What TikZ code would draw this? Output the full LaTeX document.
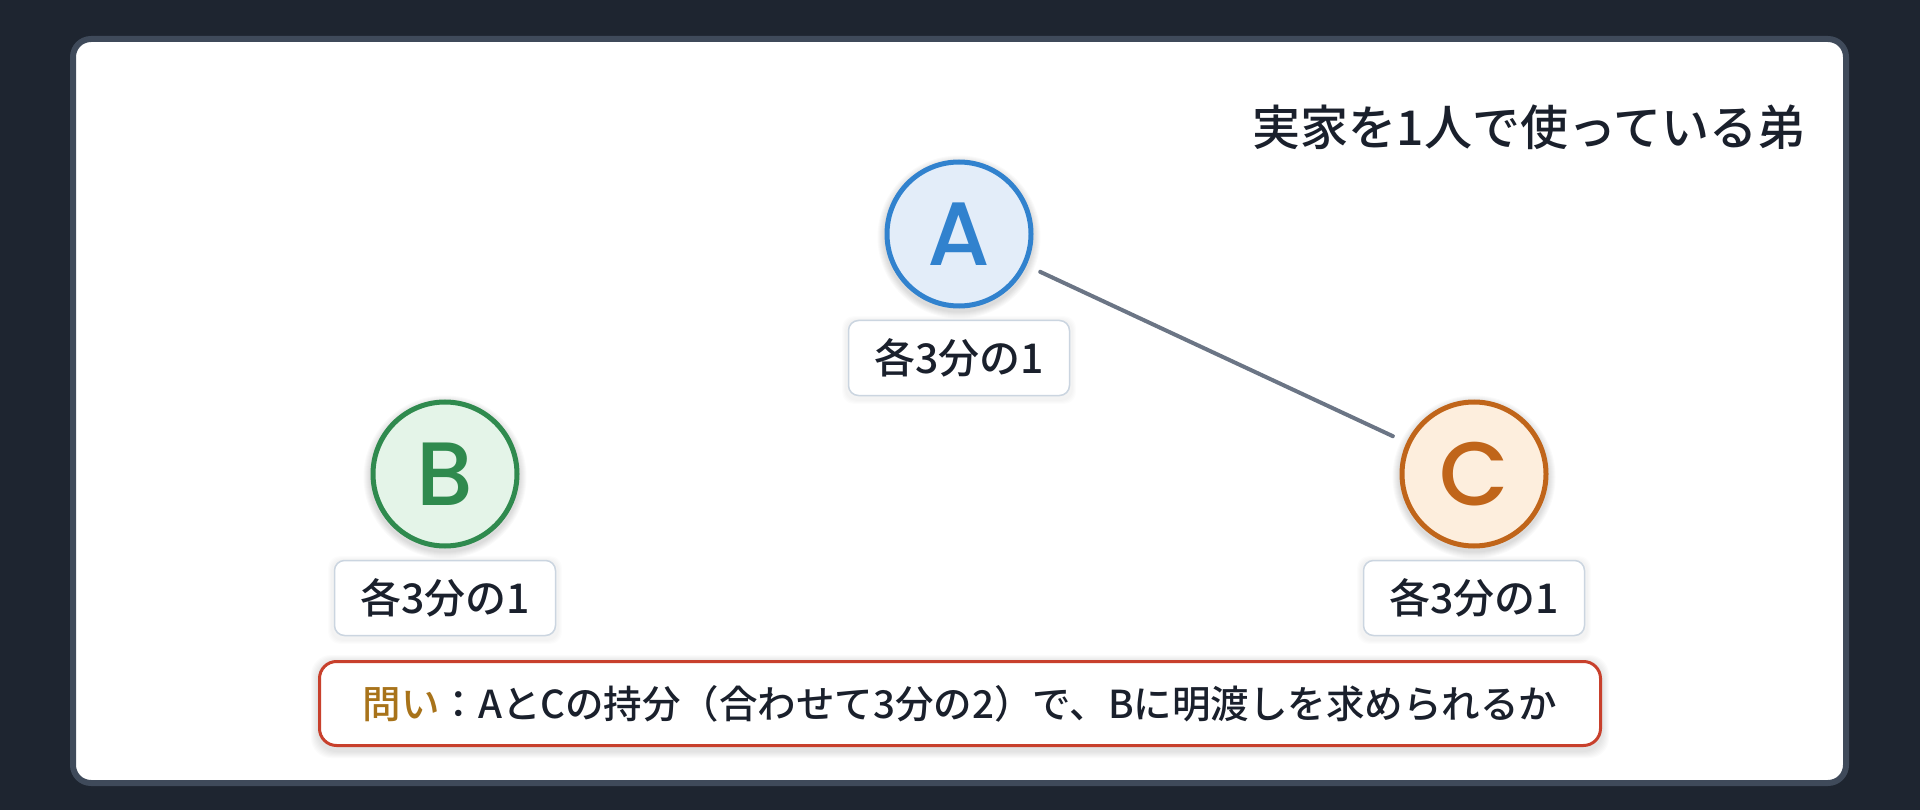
\documentclass[tikz,border=0pt]{standalone}
\usepackage{fontspec}
\setmainfont{Noto Sans CJK JP}
\newfontfamily\jpmed{Noto Sans CJK JP Medium}
\newfontfamily\letterfont{Poppins Medium}
\usetikzlibrary{calc}
\definecolor{bgdark}{HTML}{1E2530}
\definecolor{cardedge}{HTML}{3F4A5A}
\definecolor{inkdark}{HTML}{1A202C}
\definecolor{lineg}{HTML}{6B7585}
\definecolor{labedge}{HTML}{CBD5E0}
\definecolor{astroke}{HTML}{3182CE}
\definecolor{afill}{HTML}{E3EDF9}
\definecolor{bstroke}{HTML}{2F8A4E}
\definecolor{bfill}{HTML}{E4F4E8}
\definecolor{cstroke}{HTML}{C0651A}
\definecolor{cfill}{HTML}{FDEEDD}
\definecolor{qedge}{HTML}{C8402C}
\definecolor{qgold}{HTML}{A8731A}
\tikzset{
  person/.style={circle, line width=5pt, minimum size=144pt, inner sep=0pt,
    font=\letterfont\fontsize{90}{94}\selectfont, text height=63pt, text depth=0pt},
  sharebox/.style={rectangle, rounded corners=10pt, draw=labedge, fill=white,
    line width=1.5pt, minimum width=221pt, minimum height=75pt, inner sep=0pt,
    font=\jpmed\fontsize{41}{45}\selectfont, text=inkdark},
  qbox/.style={rectangle, rounded corners=17pt, draw=qedge, fill=white,
    line width=3pt, minimum width=1281pt, minimum height=84pt, inner sep=0pt,
    font=\jpmed\fontsize{38.5}{42}\selectfont, text=inkdark},
  link/.style={draw=lineg, line width=4pt, line cap=round},
  softshade/.style={fill=black, opacity=0.018}
}
\begin{document}
\begin{tikzpicture}[x=1pt,y=-1pt]
\useasboundingbox (0,0) rectangle (1920,810);
\fill[bgdark] (0,0) rectangle (1920,810);
\draw[cardedge, fill=white, line width=6pt, rounded corners=18pt] (73,39) rectangle (1846,783);

\coordinate (pA) at (959,234);
\coordinate (pB) at (445,474);
\coordinate (pC) at (1474,474);

% soft shadows
\foreach \p in {pA,pB,pC}{
  \foreach \k in {1,...,7}{
    \fill[softshade] ($(\p)+(0,3)$) circle ({74.5+\k});
  }
}
\foreach \q/\w/\h in {{959,358}/113/40,{445,598}/113/40,{1474,598}/113/40}{
  \foreach \k in {1,...,4}{
    \fill[softshade, opacity=0.012, rounded corners=12pt] ($(\q)+({-\w-\k},{-\h-\k+2})$) rectangle ($(\q)+({\w+\k},{\h+\k+2})$);
  }
}
\foreach \k in {1,...,7}{
  \fill[softshade, opacity=0.016, rounded corners=20pt] ({318-\k},{662-\k}) rectangle ({1602+\k},{751+\k});
}

\node (title) [anchor=base east, font=\jpmed\fontsize{48}{52}\selectfont, text=inkdark, inner sep=0pt]
  at (1806,146) {実家を1人で使っている弟};

\node (A) [person, draw=astroke, fill=afill, text=astroke] at (pA) {A};
\node (B) [person, draw=bstroke, fill=bfill, text=bstroke] at (pB) {B};
\node (C) [person, draw=cstroke, fill=cfill, text=cstroke] at (pC) {C};

\node (la) [sharebox] at (959,358) {各3分の1};
\node (lb) [sharebox] at (445,598) {各3分の1};
\node (lc) [sharebox] at (1474,598) {各3分の1};

\draw[link, shorten <=15pt, shorten >=15pt] (A) -- (C);

\node (q) [qbox] at (960,703.5) {\textcolor{qgold}{問い}：AとCの持分（合わせて3分の2）で、Bに明渡しを求められるか};
\end{tikzpicture}
\end{document}
